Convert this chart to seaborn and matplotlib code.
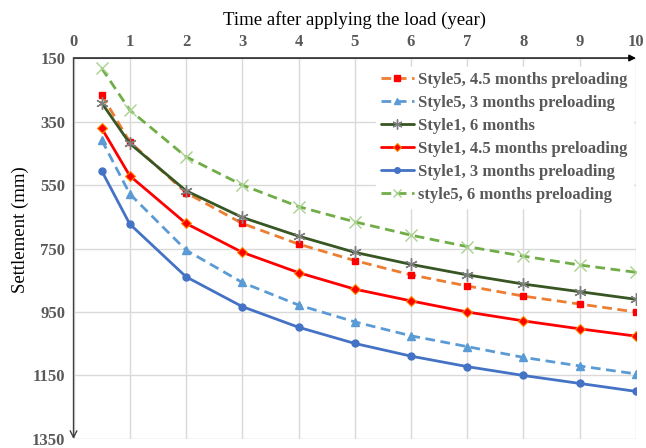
import matplotlib
matplotlib.use("Agg")
import matplotlib.pyplot as plt
import seaborn as sns
import pandas as pd
import numpy as np

# ---- data ----
years = [0.5, 1, 2, 3, 4, 5, 6, 7, 8, 9, 10]
s5_45 = [266, 414, 574, 671, 736, 788, 833, 868, 900, 925, 950]
s5_3 = [408, 578, 755, 857, 928, 981, 1025, 1059, 1093, 1120, 1145]
s1_6 = [291, 419, 568, 652, 711, 762, 800, 833, 862, 886, 910]
s1_45 = [371, 521, 671, 762, 826, 878, 915, 950, 978, 1003, 1026]
s1_3 = [505, 673, 839, 933, 998, 1049, 1089, 1122, 1150, 1175, 1200]
s5_6 = [182, 314, 461, 550, 618, 666, 708, 744, 774, 802, 825]

labels = ["Style5, 4.5 months preloading", "Style5, 3 months preloading",
          "Style1, 6 months", "Style1, 4.5 months preloading",
          "Style1, 3 months preloading", "style5, 6 months preloading"]
series = [s5_45, s5_3, s1_6, s1_45, s1_3, s5_6]
x_ticks = list(range(0, 11))
y_ticks = [150, 350, 550, 750, 950, 1150, 1350]

styles = [
    dict(color="#ED7D31", ls=(0, (3.5, 2)), marker="s", mfc="#FF0000", mec="#FF0000", ms=5),
    dict(color="#5B9BD5", ls=(0, (3.5, 2)), marker="^", mfc="#5B9BD5", mec="#5B9BD5", ms=6),
    dict(color="#375623", ls="-", marker=(6, 2, 0), mfc="#7F7F7F", mec="#7F7F7F", ms=9, mew=1),
    dict(color="#FF0000", ls="-", marker="D", mfc="#FF0000", mec="#FF8C00", ms=5.5, mew=0.8),
    dict(color="#4472C4", ls="-", marker="o", mfc="#4472C4", mec="#4472C4", ms=5),
    dict(color="#70AD47", ls=(0, (3.5, 2)), marker="x", mfc="#A9D18E", mec="#A9D18E", ms=8, mew=1),
]

sns.set_style("white")
plt.rcParams["font.family"] = ["Liberation Serif", "DejaVu Serif"]

fig = plt.figure(figsize=(6.46, 4.48), dpi=100)
ax = fig.add_axes([0.1138, 0.0201, 0.8707, 0.8504])

for lab, vals, st in zip(labels, series, styles):
    df = pd.DataFrame({"t": years, "s": vals})
    sns.lineplot(data=df, x="t", y="s", ax=ax, label=lab, color=st["color"],
                 linestyle=st["ls"], linewidth=2, marker=st["marker"],
                 markerfacecolor=st["mfc"], markeredgecolor=st["mec"],
                 markersize=st["ms"], markeredgewidth=st.get("mew", 1))

ax.set_xlim(0, 10)
ax.set_ylim(1350, 150)
ax.set_xticks(x_ticks)
ax.set_yticks(y_ticks)
ax.xaxis.tick_top()
ax.xaxis.set_label_position("top")
ax.grid(True, color="#D9D9D9", linewidth=1)
ax.set_axisbelow(True)
for sp in ax.spines.values():
    sp.set_visible(False)
ax.tick_params(axis="both", length=0, labelsize=12, labelcolor="#595959", pad=6)
for t in ax.get_xticklabels() + ax.get_yticklabels():
    t.set_fontweight("bold")

ax.set_xlabel("Time after applying the load (year)", fontsize=13.5, color="black", labelpad=6)
ax.set_ylabel("Settlement (mm)", fontsize=13.5, color="black")
ax.yaxis.set_label_coords(-0.08, 0.55)

# axis lines with arrows
ax.annotate("", xy=(1.0, 1.0), xytext=(0, 1.0), xycoords="axes fraction",
            arrowprops=dict(arrowstyle="-|>", color="black", lw=1, mutation_scale=10,
                            shrinkA=0, shrinkB=0))
ax.annotate("", xy=(0, 0.0), xytext=(0, 1.0), xycoords="axes fraction",
            arrowprops=dict(arrowstyle="->", color="#404040", lw=1, mutation_scale=12,
                            shrinkA=0, shrinkB=0))

leg = ax.legend(loc="upper right", bbox_to_anchor=(1.0, 0.985), frameon=True,
                prop=dict(family="Liberation Serif", weight="bold", size=12),
                handlelength=2.0, handletextpad=0.25, labelspacing=0.42,
                borderaxespad=0.2, borderpad=0.3, fancybox=False, markerscale=0.8)
leg.get_frame().set_facecolor("white")
leg.get_frame().set_edgecolor("white")
leg.get_frame().set_alpha(1)
for t in leg.get_texts():
    t.set_color("#595959")

fig.savefig("out.png", dpi=100)
